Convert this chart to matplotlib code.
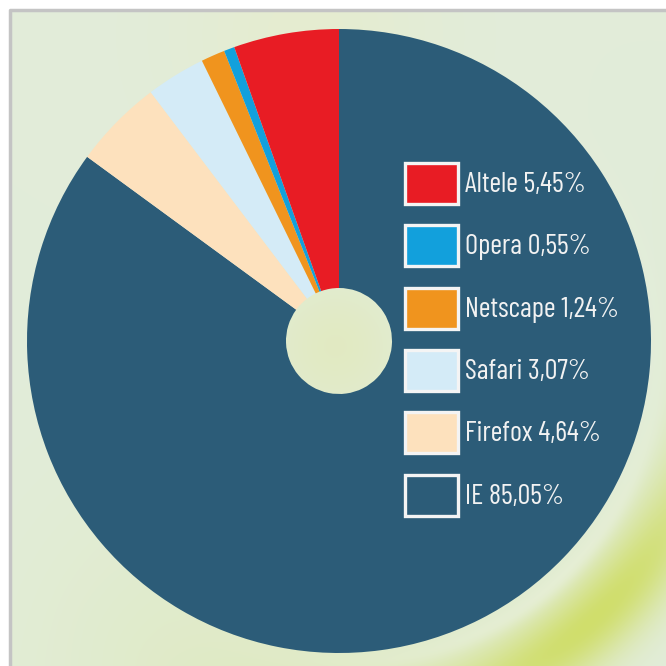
import numpy as np
import matplotlib
matplotlib.use("Agg")
import matplotlib.pyplot as plt
from matplotlib.patches import Rectangle
from matplotlib.textpath import TextPath
from matplotlib import font_manager as fm

# ---- data ----
browsers = ["IE", "Firefox", "Safari", "Netscape", "Opera", "Altele"]
shares = [85.05, 4.64, 3.07, 1.24, 0.55, 5.45]
share_labels = ["85,05%", "4,64%", "3,07%", "1,24%", "0,55%", "5,45%"]
colors = ["#2c5c78", "#fde1bd", "#d4ebf7", "#f0941e", "#12a0dc", "#e81c24"]

# legend order (top to bottom)
legend_order = ["Altele", "Opera", "Netscape", "Safari", "Firefox", "IE"]

W = H = 666
fig = plt.figure(figsize=(W / 100, H / 100), dpi=100)
fig.patch.set_facecolor("white")

# ---- background panel with soft gradient ----
bg_ax = fig.add_axes([0, 0, 1, 1])
bg_ax.set_xlim(0, W)
bg_ax.set_ylim(H, 0)
bg_ax.axis("off")

yy, xx = np.mgrid[0:H, 0:W].astype(float)
img = np.zeros((H, W, 3))
base = np.array([226, 237, 218]) / 255.0
img[:] = base

def mix(img, weight, col):
    c = np.array(col) / 255.0
    w = np.clip(weight, 0, 1)[..., None]
    return img * (1 - w) + c * w

def blob(bx, by, r):
    return np.exp(-(((xx - bx) ** 2 + (yy - by) ** 2) / (2 * r ** 2)))

img = mix(img, 0.55 * blob(300, 25, 90), (232, 236, 200))
img = mix(img, 0.6 * blob(330, 340, 50), (226, 232, 180))
img = mix(img, 0.5 * blob(250, 690, 160), (222, 232, 180))

# curved yellow-green arc outside the pie in the lower right
pcx, pcy = 339, 341
rr = np.hypot(xx - pcx, yy - pcy)
ang = np.degrees(np.arctan2(yy - pcy, xx - pcx))  # positive = below centre
angw = np.exp(-((ang - 48) / 36) ** 2)
arc = np.exp(-((rr - 375) / 40) ** 2) * angw
img = mix(img, 1.0 * arc, (208, 222, 108))
halo = np.exp(-((rr - 322) / 10) ** 2) * 0.5 * angw
img = mix(img, halo, (236, 242, 226))

bg_ax.imshow(img, extent=(10, W, H, 10), zorder=0, interpolation="bilinear")
bg_ax.plot([10, 10, W], [H, 10, 10], color="#c4c4c4", lw=2.5, zorder=1)

# ---- pie ----
cx, cy, R = 339 / W, (H - 341) / H, 312 / W
pie_ax = fig.add_axes([cx - R, cy - R, 2 * R, 2 * R])
pie_ax.pie(shares, colors=colors, startangle=90, counterclock=False, radius=1,
           wedgeprops=dict(width=1 - 53 / 312, edgecolor="none"))
pie_ax.set_xlim(-1, 1)
pie_ax.set_ylim(-1, 1)
pie_ax.set_aspect("equal")
pie_ax.axis("off")
pie_ax.patch.set_alpha(0)

# ---- pick a condensed font whose width/cap-height ratio matches the reference ----
probe = "Netscape 1,24%"
target_ratio = 154 / 23.0
best_fp, best_err = fm.FontProperties(family="DejaVu Sans"), None
seen = set()
count = 0
for f in fm.fontManager.ttflist:
    nm = f.name.lower()
    fn = f.fname.lower()
    w = f.weight if isinstance(f.weight, int) else 400
    if f.style != "normal" or not (400 <= w <= 600):
        continue
    if "mono" in nm or "cjk" in nm or "cjk" in fn or f.fname in seen:
        continue
    if not any(s in nm or s in fn for s in ("narrow", "condensed", "compressed")):
        continue
    seen.add(f.fname)
    count += 1
    if count > 40:
        break
    try:
        fp = fm.FontProperties(fname=f.fname)
        wid = TextPath((0, 0), probe, size=20, prop=fp).get_extents().width
        cap = TextPath((0, 0), "E", size=20, prop=fp).get_extents().height
    except Exception:
        continue
    if cap <= 0:
        continue
    err = abs(wid / cap - target_ratio)
    if best_err is None or err < best_err:
        best_err, best_fp = err, fp

# ---- legend ----
renderer = fig.canvas.get_renderer()
top0, pitch = 163, 62.3
texts = []
for i, name in enumerate(legend_order):
    k = browsers.index(name)
    top = top0 + i * pitch
    rect = Rectangle((405 / W, 1 - (top + 41) / H), 53 / W, 41 / H,
                     transform=fig.transFigure, facecolor=colors[k],
                     edgecolor="#f4f4f4", lw=2.4, zorder=5)
    fig.add_artist(rect)
    t = fig.text(465 / W, 1 - (top + 22) / H, f"{name} {share_labels[k]}",
                 fontproperties=best_fp, color="#f2f2f2", va="center", ha="left",
                 zorder=6)
    t.set_fontsize(30)
    texts.append(t)

# set the size so the widest label spans the same width as in the reference
size = 30.0
while size > 8:
    widest = max(t.get_window_extent(renderer).width for t in texts)
    if widest <= 158:
        break
    size -= 0.5
    for t in texts:
        t.set_fontsize(size)

fig.savefig("out.png", dpi=100, facecolor="white")
